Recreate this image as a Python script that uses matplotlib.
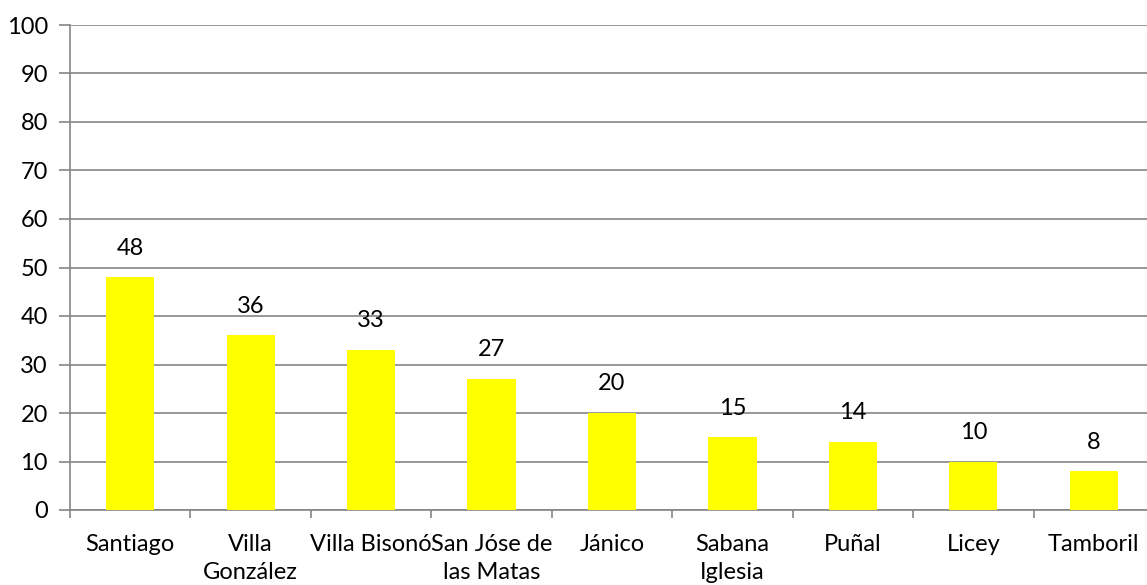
import matplotlib
matplotlib.use("Agg")
import matplotlib.pyplot as plt
import numpy as np

categories = ["Santiago", "Villa\nGonzález", "Villa Bisonó", "San Jóse de\nlas Matas",
              "Jánico", "Sabana\nIglesia", "Puñal", "Licey", "Tamboril"]
values = [48, 36, 33, 27, 20, 15, 14, 10, 8]
yticks = [0, 10, 20, 30, 40, 50, 60, 70, 80, 90, 100]

plt.rcParams['font.family'] = ['Lato', 'DejaVu Sans']

W, H = 1147, 585
fig = plt.figure(figsize=(W / 100, H / 100), dpi=100)
left, right, top, bottom = 70, 1154, 25, 510
ax = fig.add_axes([left / W, 1 - bottom / H, (right - left) / W, (bottom - top) / H])

FS = 17
x = np.arange(len(categories))
ax.bar(x, values, width=0.4, color="#FFFF00", zorder=3)
ax.set_xlim(-0.5, len(categories) - 0.5)
ax.set_ylim(0, 100)
ax.set_yticks(yticks)
ax.yaxis.grid(True, color="#868686", linewidth=1.2, zorder=0)
ax.tick_params(axis='y', length=8, width=1.2, color="#868686", labelsize=FS, pad=8,
               labelcolor="#000000")

ax.set_xticks(x)
ax.set_xticklabels(categories, fontsize=FS, linespacing=1.45)
ax.set_xticks(np.arange(-0.5, len(categories) - 0.4, 1), minor=True)
ax.tick_params(axis='x', which='major', length=0, pad=17)
ax.tick_params(axis='x', which='minor', length=6, width=1.2, color="#868686")

for s in ["top", "right"]:
    ax.spines[s].set_visible(False)
for s in ["left", "bottom"]:
    ax.spines[s].set_color("#868686")
    ax.spines[s].set_linewidth(1.2)

for xi, v in zip(x, values):
    ax.annotate(str(v), (xi, v), xytext=(0, 21), textcoords="offset points",
                ha="center", va="center", fontsize=FS)

fig.savefig("out.png", dpi=100)
